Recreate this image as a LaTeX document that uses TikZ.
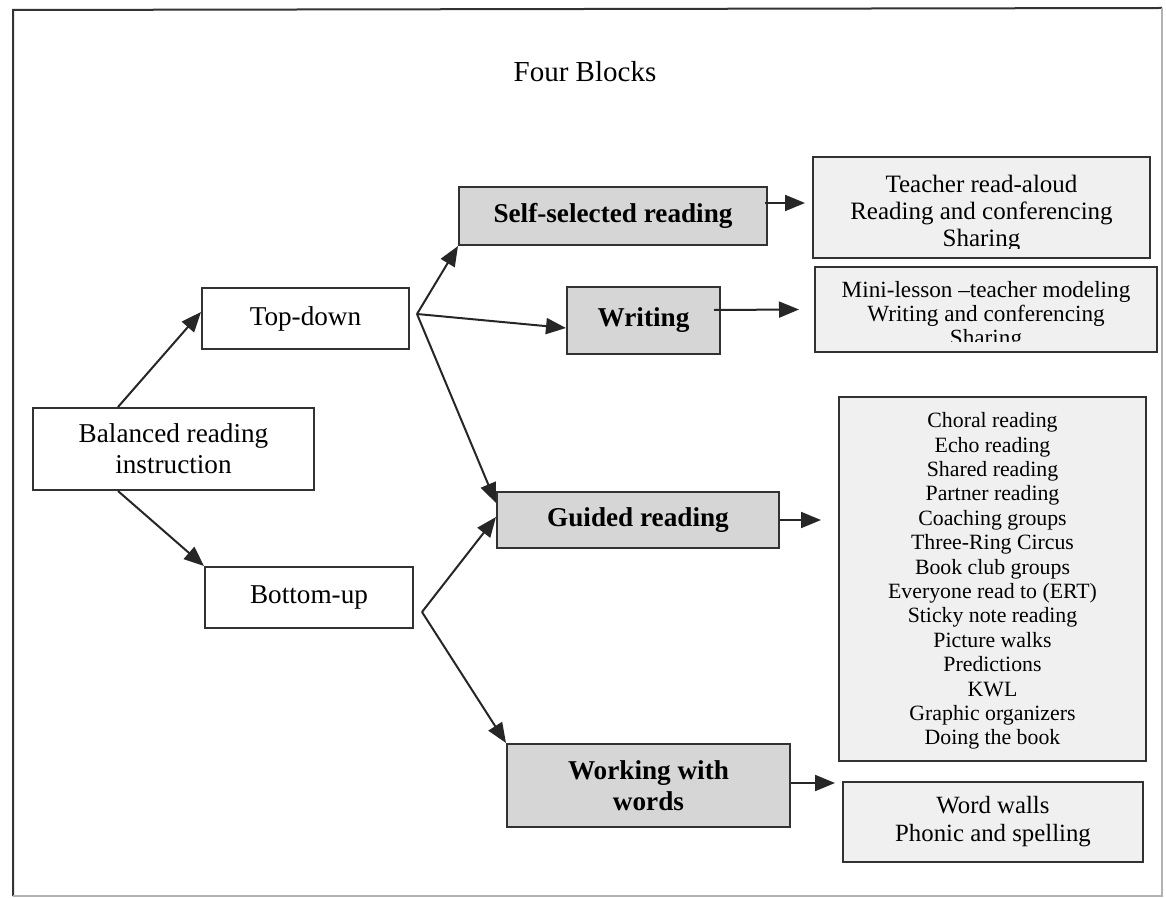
\documentclass[tikz,border=0pt]{standalone}
\usepackage{fontspec}
\setmainfont{Liberation Serif}
\usetikzlibrary{arrows.meta}
\definecolor{blockgray}{RGB}{214,214,214}
\definecolor{listgray}{RGB}{240,240,240}
\definecolor{edgegray}{RGB}{50,50,50}

\begin{document}
\begin{tikzpicture}[
  x=0.5pt, y=-0.5pt,
  plain/.style={rectangle, draw=edgegray, line width=1pt, fill=white, align=center, inner sep=0pt, font=\fontsize{13.6}{15.5}\selectfont},
  block/.style={plain, fill=blockgray, font=\fontsize{13.6}{15.5}\selectfont\bfseries},
  listbox/.style={rectangle, draw=edgegray, line width=1pt, fill=listgray, inner sep=0pt},
  listtext/.style={align=center, inner sep=0pt},
  arr/.style={-{Triangle[length=10pt,width=8pt]}, line width=1pt, draw=black!85}
]
\useasboundingbox (0,0) rectangle (1166,898);
% outer frame
\draw[line width=1pt, black!80] (13,896) -- (13,10) -- (1162,8);
\draw[line width=0.8pt, black!30] (1162,8) -- (1162,896) -- (13,896);

\node[font=\fontsize{14.5}{17}\selectfont] (title) at (585,72) {Four Blocks};

% left side
\node[plain, minimum width=140.5pt, minimum height=41pt] (bal) at (173.5,449) {Balanced reading\\instruction};
\node[plain, minimum width=103.5pt, minimum height=30.5pt] (top) at (305.5,318.5) {Top-down};
\node[plain, minimum width=104pt, minimum height=30.5pt] (bot) at (309,597.5) {Bottom-up};

% the four blocks
\node[block, minimum width=154pt, minimum height=29pt] (self) at (613,216) {Self-selected reading};
\node[block, minimum width=76.5pt, minimum height=33.5pt] (writ) at (643.5,320.5) {Writing};
\node[block, minimum width=141pt, minimum height=28pt] (guid) at (638,520) {Guided reading};
\node[block, minimum width=141.5pt, minimum height=41.5pt] (work) at (648.5,785.5) {Working with\\words};

% activity lists
\node[listbox, minimum width=168.5pt, minimum height=50.5pt] (tra) at (981.5,207.5) {};
\begin{scope}
  \clip ([yshift=5pt]tra.south west) rectangle (tra.north east);
  \node[listtext, font=\fontsize{12.5}{13.3}\selectfont] (tratext) at (981.5,213.5) {Teacher read-aloud\\Reading and conferencing\\Sharing};
\end{scope}
\node[listbox, minimum width=171pt, minimum height=42.5pt] (mini) at (986,309.5) {};
\begin{scope}
  \clip ([yshift=5.5pt]mini.south west) rectangle (mini.north east);
  \node[listtext, font=\fontsize{11.6}{12}\selectfont] (minitext) at (986,316) {Mini-lesson --teacher modeling\\Writing and conferencing\\Sharing};
\end{scope}
\node[listbox, minimum width=153.5pt, minimum height=182pt] (list) at (992.5,579) {};
\node[listtext, font=\fontsize{10.9}{12.2}\selectfont] (listtext) at (992.5,581) {Choral reading\\Echo reading\\Shared reading\\Partner reading\\Coaching groups\\Three-Ring Circus\\Book club groups\\Everyone read to (ERT)\\Sticky note reading\\Picture walks\\Predictions\\KWL\\Graphic organizers\\Doing the book};
\node[listbox, minimum width=150pt, minimum height=40pt] (walls) at (993,822) {};
\node[listtext, font=\fontsize{12.4}{14}\selectfont] (wallstext) at (993,822) {Word walls\\Phonic and spelling};

% connectors
\coordinate (tdfork) at ([xshift=3.5pt,yshift=2.25pt]top.east);
\coordinate (bufork) at ([xshift=4pt,yshift=-7.25pt]bot.east);
\draw[arr] ([xshift=-27.75pt]bal.north) -- ([yshift=3.25pt]top.west);
\draw[arr] ([xshift=-27.75pt]bal.south) -- (bot.north west);
\draw[arr] (tdfork) -- (self.south west);
\draw[arr] (tdfork) -- ([yshift=-3.75pt]writ.west);
\draw[arr] (tdfork) -- ([yshift=8.5pt]guid.west);
\draw[arr] (bufork) -- ([yshift=1.5pt]guid.west);
\draw[arr] (bufork) -- (work.north west);
\draw[arr] ([xshift=-1.5pt,yshift=6.5pt]self.east) -- ([xshift=-3.5pt,yshift=2.25pt]tra.west);
\draw[arr] ([xshift=-3.5pt,yshift=5.25pt]writ.east) -- ([xshift=-7.5pt]mini.west);
\draw[arr] (guid.east) -- ([xshift=-8.5pt,yshift=29.5pt]list.west);
\draw[arr] ([yshift=1.25pt]work.east) -- ([xshift=-3.5pt,yshift=19.5pt]walls.west);
\end{tikzpicture}
\end{document}
